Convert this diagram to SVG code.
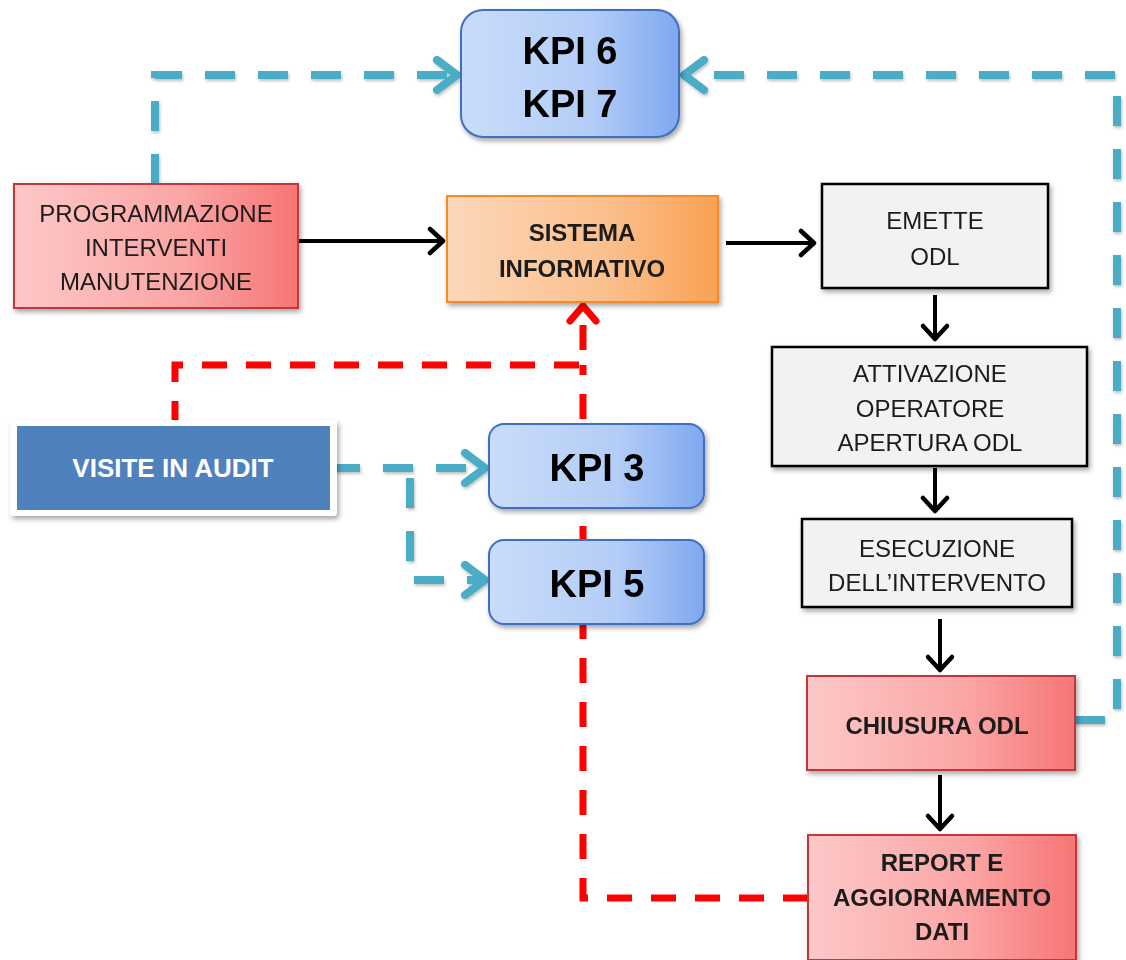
<svg xmlns="http://www.w3.org/2000/svg" width="1126" height="960" viewBox="0 0 1126 960">
  <defs>
    <linearGradient id="gBlue" x1="0" y1="0" x2="1" y2="0">
      <stop offset="0" stop-color="#c9dcfa"/>
      <stop offset="0.6" stop-color="#b4cdf7"/>
      <stop offset="1" stop-color="#7ea8f0"/>
    </linearGradient>
    <linearGradient id="gRed" x1="0" y1="0" x2="1" y2="0">
      <stop offset="0" stop-color="#fdc8c8"/>
      <stop offset="0.6" stop-color="#fba5a5"/>
      <stop offset="1" stop-color="#f77575"/>
    </linearGradient>
    <linearGradient id="gOrange" x1="0" y1="0" x2="1" y2="0">
      <stop offset="0" stop-color="#fdd7ba"/>
      <stop offset="0.6" stop-color="#fbbf8c"/>
      <stop offset="1" stop-color="#f9a153"/>
    </linearGradient>
    <filter id="shadow" x="-10%" y="-10%" width="125%" height="130%">
      <feDropShadow dx="2" dy="3" stdDeviation="2.5" flood-color="#000" flood-opacity="0.35"/>
    </filter>
    <filter id="lineShadow" x="-5%" y="-5%" width="110%" height="110%">
      <feDropShadow dx="1" dy="2" stdDeviation="1.5" flood-color="#000" flood-opacity="0.25"/>
    </filter>
    <marker id="arrBlack" markerUnits="userSpaceOnUse" viewBox="-20 -16 24 32" markerWidth="24" markerHeight="32" refX="0" refY="0" orient="auto" overflow="visible">
      <path d="M-13,-12 L0,0 L-13,12" fill="none" stroke="#000" stroke-width="4.5" stroke-linecap="round" stroke-linejoin="round"/>
    </marker>
    <marker id="arrBlue" markerUnits="userSpaceOnUse" viewBox="-30 -20 34 40" markerWidth="34" markerHeight="40" refX="0" refY="0" orient="auto" overflow="visible">
      <path d="M-20,-15 L0,0 L-20,15" fill="none" stroke="#4bacc6" stroke-width="8" stroke-linecap="round" stroke-linejoin="round"/>
    </marker>
    <marker id="arrRed" markerUnits="userSpaceOnUse" viewBox="-30 -20 34 40" markerWidth="34" markerHeight="40" refX="0" refY="0" orient="auto" overflow="visible">
      <path d="M-15,-13 L0,0 L-15,13" fill="none" stroke="#ff0000" stroke-width="7" stroke-linecap="round" stroke-linejoin="round"/>
    </marker>
  </defs>
  <style>
    .solid { fill: none; stroke: #000; stroke-width: 4; }
    .blue { fill: none; stroke: #4bacc6; stroke-width: 8; stroke-dasharray: 30 23; }
    .red { fill: none; stroke: #ff0000; stroke-width: 7; stroke-dasharray: 25 19; }
    .t { font-family: "Liberation Sans", Arial, sans-serif; fill: #1a1a1a; text-anchor: middle; }
    .reg { font-size: 24px; }
    .bold { font-size: 24px; font-weight: bold; }
    .kpi { font-size: 38px; font-weight: bold; fill: #000; }
    .gray { fill: #f2f2f2; stroke: #000; stroke-width: 2.5; }
    .redBox { fill: url(#gRed); stroke: #c0393b; stroke-width: 2; }
    .blueBox { fill: url(#gBlue); stroke: #3d6fc1; stroke-width: 2; }
  </style>
  <rect width="1126" height="960" fill="#ffffff"/>

  <!-- connectors -->
  <g id="connectors">
    <g filter="url(#lineShadow)">
      <path class="blue" d="M155,184 V75 H457" marker-end="url(#arrBlue)"/>
      <path class="blue" d="M1075,720 H1117 V75 H684" marker-end="url(#arrBlue)"/>
      <path class="blue" d="M330,468 H485" marker-end="url(#arrBlue)"/>
      <path class="blue" d="M410,478 V580 H485" marker-end="url(#arrBlue)"/>
    </g>
    <path class="red" d="M175,426 V365 H583 V306" marker-end="url(#arrRed)"/>
    <path class="red" d="M808,898 H583 V365"/>
    <line class="solid" x1="298" y1="241" x2="443" y2="241" marker-end="url(#arrBlack)"/>
    <line class="solid" x1="726" y1="243" x2="814" y2="243" marker-end="url(#arrBlack)"/>
    <line class="solid" x1="935" y1="295" x2="935" y2="339" marker-end="url(#arrBlack)"/>
    <line class="solid" x1="935" y1="468" x2="935" y2="511" marker-end="url(#arrBlack)"/>
    <line class="solid" x1="940" y1="619" x2="940" y2="670" marker-end="url(#arrBlack)"/>
    <line class="solid" x1="940" y1="775" x2="940" y2="829" marker-end="url(#arrBlack)"/>
  </g>

  <!-- nodes -->
  <g id="kpi67" filter="url(#shadow)">
    <rect class="blueBox" x="461" y="10" width="218" height="127" rx="22"/>
    <text class="t kpi" x="570" y="64">KPI 6</text>
    <text class="t kpi" x="570" y="117">KPI 7</text>
  </g>

  <g id="programmazione" filter="url(#shadow)">
    <rect class="redBox" x="14" y="184" width="284" height="124"/>
    <text class="t reg" x="156" y="222">PROGRAMMAZIONE</text>
    <text class="t reg" x="156" y="256">INTERVENTI</text>
    <text class="t reg" x="156" y="290">MANUTENZIONE</text>
  </g>

  <g id="sistema" filter="url(#shadow)">
    <rect x="447" y="196" width="271" height="106" fill="url(#gOrange)" stroke="#f58a2c" stroke-width="2"/>
    <text class="t bold" x="582" y="241">SISTEMA</text>
    <text class="t bold" x="582" y="277">INFORMATIVO</text>
  </g>

  <g id="emette" filter="url(#shadow)">
    <rect class="gray" x="822" y="184" width="226" height="104"/>
    <text class="t reg" x="935" y="229">EMETTE</text>
    <text class="t reg" x="935" y="265">ODL</text>
  </g>

  <g id="attivazione" filter="url(#shadow)">
    <rect class="gray" x="772" y="347" width="315" height="119"/>
    <text class="t reg" x="930" y="382">ATTIVAZIONE</text>
    <text class="t reg" x="930" y="417">OPERATORE</text>
    <text class="t reg" x="930" y="451">APERTURA ODL</text>
  </g>

  <g id="esecuzione" filter="url(#shadow)">
    <rect class="gray" x="802" y="519" width="270" height="88"/>
    <text class="t reg" x="937" y="557">ESECUZIONE</text>
    <text class="t reg" x="937" y="591">DELL’INTERVENTO</text>
  </g>

  <g id="chiusura" filter="url(#shadow)">
    <rect class="redBox" x="807" y="676" width="268" height="94"/>
    <text class="t bold" x="937" y="734">CHIUSURA ODL</text>
  </g>

  <g id="report" filter="url(#shadow)">
    <rect class="redBox" x="808" y="835" width="268" height="125"/>
    <text class="t bold" x="942" y="871">REPORT E</text>
    <text class="t bold" x="942" y="906">AGGIORNAMENTO</text>
    <text class="t bold" x="942" y="940">DATI</text>
  </g>

  <g id="visite">
    <rect x="10" y="420" width="327" height="96" rx="4" fill="#ffffff" filter="url(#shadow)"/>
    <rect x="17" y="426" width="313" height="84" fill="#4f81bd"/>
    <text class="t bold" x="173" y="477" style="fill:#ffffff;font-size:26px">VISITE IN AUDIT</text>
  </g>

  <g id="kpi3" filter="url(#shadow)">
    <rect class="blueBox" x="489" y="424" width="215" height="84" rx="15"/>
    <text class="t kpi" x="597" y="481">KPI 3</text>
  </g>

  <g id="kpi5" filter="url(#shadow)">
    <rect class="blueBox" x="489" y="540" width="215" height="84" rx="15"/>
    <text class="t kpi" x="597" y="597">KPI 5</text>
  </g>
</svg>
